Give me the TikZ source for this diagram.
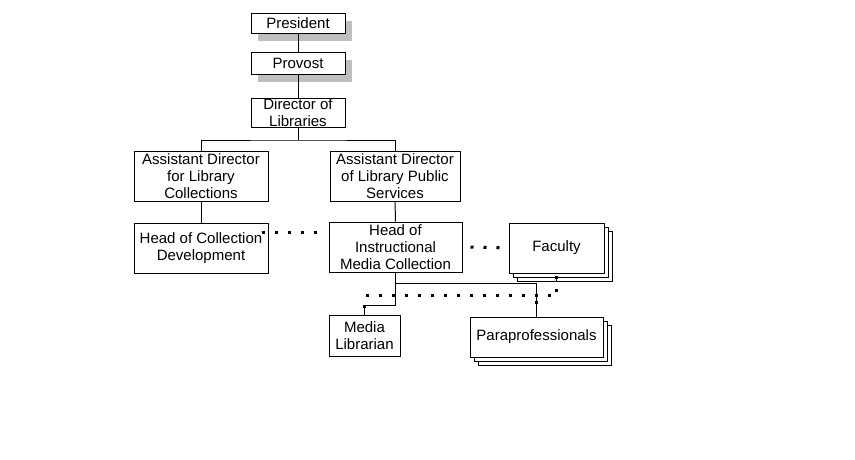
\documentclass[tikz,border=0pt]{standalone}
\usepackage{fontspec}
\setmainfont{Liberation Sans}
\usetikzlibrary{shadows}
\begin{document}
\begin{tikzpicture}[x=1pt,y=-1pt,line width=1pt,
	box/.style={draw,fill=white,inner xsep=1pt,inner ysep=0pt,align=center,font=\fontsize{15}{17}\selectfont},
	shadowbox/.style={box,drop shadow={shadow xshift=7pt,shadow yshift=-8pt,fill=black!25,opacity=1}},
	stackbox/.style={box,double copy shadow={shadow xshift=4pt,shadow yshift=-4pt}},
	dots/.style={line width=3pt,dash pattern=on 3pt off 10pt}]
			\useasboundingbox (0,0) rectangle (855,459);
			\node [shadowbox,minimum width=94pt,minimum height=20pt] (pres) at (298,23) {President};
			\node [shadowbox,minimum width=94pt,minimum height=22pt] (prov) at (298,63) {Provost};
			\node [box,minimum width=94pt,minimum height=29pt,inner ysep=-1pt] (dir) at (298,112.5) {Director of\\Libraries};
			\node [box,minimum width=134pt,minimum height=50pt] (adc) at (201,176) {Assistant Director\\for Library\\Collections};
			\node [box,minimum width=130pt,minimum height=50pt] (adp) at (395,176) {Assistant Director\\of Library Public\\Services};
			\node [box,minimum width=134pt,minimum height=50pt] (hcd) at (201,248) {Head of Collection\\Development};
			\node [box,minimum width=133pt,minimum height=50pt] (himc) at (395.5,247) {Head of\\Instructional\\Media Collection};
			\node [stackbox,minimum width=95pt,minimum height=50pt] (fac) at (556.5,248) {Faculty};
			\node [stackbox,minimum width=133pt,minimum height=40pt] (para) at (536.5,337) {Paraprofessionals};
			\node [box,minimum width=71pt,minimum height=41pt] (ml) at (364.5,335.5) {Media\\Librarian};
			\coordinate (bus1) at (298,140);
			\coordinate (bus2) at (395.5,283);
			\coordinate (bus3) at (395.5,305);
			\draw (pres) -- (prov);
			\draw (prov) -- (dir);
			\draw (dir) -- (bus1);
			\draw (adc.north) |- (bus1) -| (adp.north);
			\draw (adc) -- (hcd);
			\draw (adp) -- (himc);
			\draw (himc.south) -- (bus3) -| (ml.north);
			\draw (bus2) -| (para.north);
			\draw ([yshift=-8pt]fac.south) -- +(0,6pt);
			\draw [dots] ([xshift=-7pt,yshift=16pt]hcd.east) -- +(56pt,0);
			\draw [dots] ([xshift=8pt]himc.east) -- (fac.west);
			\draw [dots] ([yshift=7pt]ml.north) |- ([yshift=-22pt]fac.south) -- (fac.south);
			\draw [dots] ([yshift=13pt]para.north) -- +(0,10pt);
		\end{tikzpicture}
\end{document}
